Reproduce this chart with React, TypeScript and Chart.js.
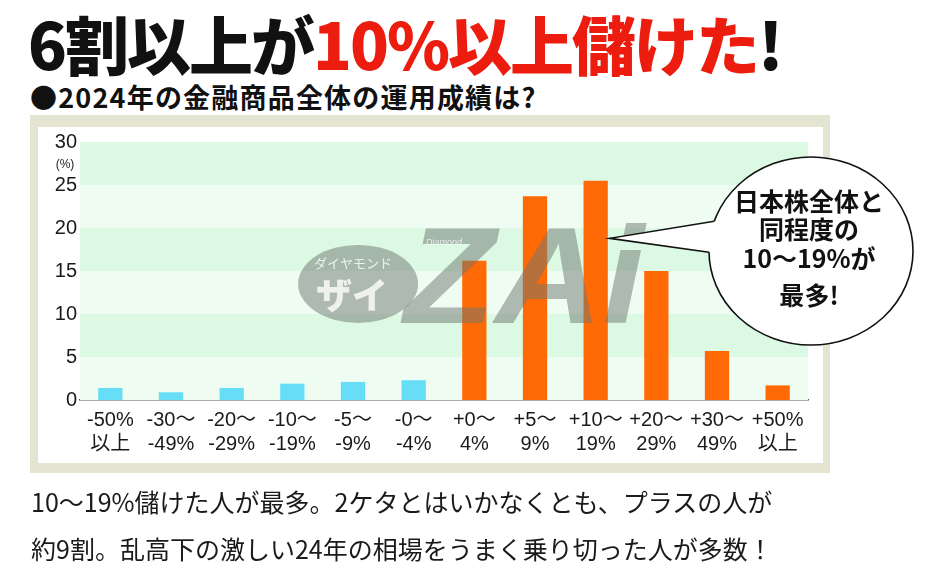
import React, { useEffect, useRef } from 'react';
import { Chart, registerables } from 'chart.js';

Chart.register(...registerables);

// ---- data ----
const categories: string[][] = [
  ['-50%', '以上'],
  ['-30〜', '-49%'],
  ['-20〜', '-29%'],
  ['-10〜', '-19%'],
  ['-5〜', '-9%'],
  ['-0〜', '-4%'],
  ['+0〜', '4%'],
  ['+5〜', '9%'],
  ['+10〜', '19%'],
  ['+20〜', '29%'],
  ['+30〜', '49%'],
  ['+50%', '以上'],
];
const shares: number[] = [1.4, 0.9, 1.4, 1.9, 2.1, 2.3, 16.2, 23.7, 25.5, 15.0, 5.7, 1.7];
const yTickValues: number[] = [0, 5, 10, 15, 20, 25, 30];
const yUnit = '(%)';
const titleBlack = '6割以上が';
const titleRed = '10%以上儲けた';
const titleEnd = '!';
const subtitle = '●2024年の金融商品全体の運用成績は?';
const bubbleLines: string[] = ['日本株全体と', '同程度の', '10〜19%が', '最多!'];
const captionLines: string[] = [
  '10〜19%儲けた人が最多。2ケタとはいかなくとも、プラスの人が',
  '約9割。乱高下の激しい24年の相場をうまく乗り切った人が多数！',
];
const pointerValue = 18.8; // y value where the callout points at the +10〜19% bar
const pointerIndex = 8;

// ---- styles ----
const BLUE = '#66def8';
const ORANGE = '#ff6a06';
const BAND_GREEN = '#dcf9e3';
const BAND_PALE = '#eefcf2';
const CJK = '"Noto Sans CJK JP", sans-serif';
const LATIN = '"Liberation Sans", Arial, "Noto Sans CJK JP", sans-serif';

const bandsPlugin = {
  id: 'bands',
  beforeDatasetsDraw(chart: any) {
    const { ctx, chartArea, scales } = chart;
    const y = scales.y;
    ctx.save();
    for (let i = 0; i < yTickValues.length - 1; i++) {
      const top = y.getPixelForValue(yTickValues[i + 1]);
      const bot = y.getPixelForValue(yTickValues[i]);
      ctx.fillStyle = i % 2 === 1 ? BAND_GREEN : BAND_PALE;
      ctx.fillRect(chartArea.left, top, chartArea.right - chartArea.left, bot - top);
    }
    // unit label under top tick
    ctx.fillStyle = '#222';
    ctx.font = `12px ${LATIN}`;
    ctx.textAlign = 'center';
    ctx.textBaseline = 'middle';
    ctx.fillText(yUnit, chartArea.left - 15, y.getPixelForValue(30) + 23);
    ctx.restore();
  },
};

const watermarkPlugin = {
  id: 'watermark',
  afterDatasetsDraw(chart: any) {
    const { ctx, chartArea } = chart;
    const w = chartArea.right - chartArea.left;
    const h = chartArea.bottom - chartArea.top;
    const ex = chartArea.left + w * 0.382;
    const ey = chartArea.top + h * 0.55;
    ctx.save();
    ctx.fillStyle = 'rgba(110,118,112,0.5)';
    ctx.beginPath();
    ctx.ellipse(ex, ey, 60, 39, 0, 0, Math.PI * 2);
    ctx.fill();
    ctx.fillStyle = 'rgba(255,255,255,0.8)';
    ctx.textAlign = 'center';
    ctx.textBaseline = 'middle';
    ctx.font = `13px ${CJK}`;
    ctx.fillText('ダイヤモンド', ex - 5, ey - 21);
    ctx.font = `900 36px ${CJK}`;
    ctx.fillText('ザイ', ex - 6, ey + 11);
    // ZAi logo
    ctx.fillStyle = 'rgba(110,118,112,0.5)';
    ctx.font = `italic 900 138px ${LATIN}`;
    ctx.textAlign = 'left';
    ctx.textBaseline = 'alphabetic';
    const zx = chartArea.left + w * 0.445;
    const zy = chartArea.top + h * 0.7;
    ctx.save();
    ctx.translate(zx, zy);
    ctx.scale(1.08, 1);
    ctx.fillText('ZAi', 0, 0);
    ctx.restore();
    ctx.fillStyle = 'rgba(255,255,255,0.75)';
    ctx.font = `italic 9px ${LATIN}`;
    ctx.fillText('Diamond', zx + 22, zy - 78);
    ctx.restore();
  },
};

const bubblePlugin = {
  id: 'bubble',
  afterDraw(chart: any) {
    const { ctx, chartArea, scales } = chart;
    const meta = chart.getDatasetMeta(0);
    const bar = meta.data[pointerIndex];
    const tipX = bar.x + bar.width / 2 + 2;
    const tipY = scales.y.getPixelForValue(pointerValue);
    const cx = chartArea.right + 3;
    const cy = chartArea.top + 109;
    const rx = 102;
    const ry = 94;
    const edgeX = (yy: number) => cx - rx * Math.sqrt(1 - ((yy - cy) / ry) ** 2);
    const y1 = tipY - 17;
    const y2 = tipY + 14;
    ctx.save();
    ctx.fillStyle = '#fff';
    ctx.strokeStyle = '#111';
    ctx.lineWidth = 1.6;
    ctx.beginPath();
    ctx.ellipse(cx, cy, rx, ry, 0, 0, Math.PI * 2);
    ctx.fill();
    ctx.stroke();
    ctx.beginPath();
    ctx.moveTo(edgeX(y1) + 1, y1);
    ctx.lineTo(tipX, tipY);
    ctx.lineTo(edgeX(y2) + 1, y2);
    ctx.lineTo(edgeX(tipY) + 20, tipY);
    ctx.closePath();
    ctx.fill();
    ctx.beginPath();
    ctx.moveTo(edgeX(y1), y1);
    ctx.lineTo(tipX, tipY);
    ctx.lineTo(edgeX(y2), y2);
    ctx.stroke();
    ctx.fillStyle = '#111';
    ctx.textAlign = 'center';
    ctx.textBaseline = 'middle';
    ctx.font = `bold 25px ${CJK}`;
    const offs = [-50, -22, 7, 44];
    bubbleLines.forEach((t, i) => ctx.fillText(t, cx - 2, cy + offs[i]));
    ctx.restore();
  },
};

function ChartCanvas() {
  const ref = useRef<HTMLCanvasElement | null>(null);
  useEffect(() => {
    if (!ref.current) return;
    const chart = new Chart(ref.current, {
      type: 'bar',
      data: {
        labels: categories,
        datasets: [
          {
            data: shares,
            backgroundColor: shares.map((_, i) => (i < 6 ? BLUE : ORANGE)),
            borderWidth: 0,
            categoryPercentage: 1,
            barPercentage: 0.4,
          },
        ],
      },
      options: {
        animation: false,
        responsive: false,
        layout: { padding: { left: 0, right: 126, top: 142, bottom: 120 } },
        plugins: { legend: { display: false }, tooltip: { enabled: false }, title: { display: false } },
        scales: {
          x: {
            grid: { display: false, drawTicks: false },
            border: { display: true, color: '#555', width: 1.5 },
            ticks: { color: '#1a1a1a', font: { family: LATIN, size: 20 }, padding: 8, maxRotation: 0, autoSkip: false },
            afterFit(s: any) { s.height = 60; },
          },
          y: {
            min: 0,
            max: 30,
            afterBuildTicks(s: any) { s.ticks = yTickValues.map((v) => ({ value: v })); },
            grid: { display: false, drawTicks: false },
            border: { display: false },
            ticks: { color: '#1a1a1a', font: { family: LATIN, size: 20 }, padding: 3 },
            afterFit(s: any) { s.width = 80; },
          },
        },
      },
      plugins: [bandsPlugin, watermarkPlugin, bubblePlugin],
    });
    return () => chart.destroy();
  }, []);
  return <canvas ref={ref} width={934} height={580} style={{ position: 'absolute', left: 0, top: 0, width: 934, height: 580 }} />;
}

export default function App() {
  return (
    <div style={{ position: 'fixed', left: 0, top: 0, width: 934, height: 580, background: '#fff', overflow: 'hidden' }}>
      <div
        style={{
          position: 'absolute', left: 28, top: 10, height: 64, lineHeight: '64px', whiteSpace: 'nowrap',
          fontFamily: CJK, fontWeight: 900, fontSize: 64, color: '#111', letterSpacing: -2,
        }}
      >
        {titleBlack}
        <span style={{ color: '#ec1c0e' }}>{titleRed}</span>
        {titleEnd}
      </div>
      <div
        style={{
          position: 'absolute', left: 30, top: 83, height: 27, lineHeight: '27px', whiteSpace: 'nowrap',
          fontFamily: CJK, fontWeight: 700, fontSize: 27, color: '#111', letterSpacing: 1.2,
        }}
      >
        {subtitle}
      </div>
      <div style={{ position: 'absolute', left: 30, top: 115, width: 800, height: 358, background: '#e4e4d2' }} />
      <div style={{ position: 'absolute', left: 38, top: 127, width: 785, height: 336, background: '#fff' }} />
      <ChartCanvas />
      <div
        style={{
          position: 'absolute', left: 31, top: 478, lineHeight: '47px', whiteSpace: 'nowrap',
          fontFamily: CJK, fontWeight: 400, fontSize: 25, color: '#1a1a1a',
        }}
      >
        {captionLines.map((l, i) => (
          <div key={i}>{l}</div>
        ))}
      </div>
    </div>
  );
}
